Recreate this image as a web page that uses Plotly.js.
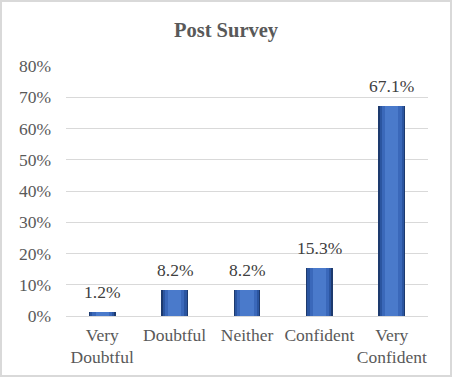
<!DOCTYPE html>
<html><head><meta charset="utf-8">
<script src="https://cdn.plot.ly/plotly-3.0.1.min.js"></script>
<style>
html,body{margin:0;padding:0;background:#fff;}
#chart{width:448px;height:373px;border:2px solid #d9d9d9;}
</style></head>
<body><div id="chart"></div>
<script>
const categories = ["Very<br>Doubtful", "Doubtful", "Neither", "Confident", "Very<br>Confident"];
const values = [1.2, 8.2, 8.2, 15.3, 67.1];
const yTicks = [0, 10, 20, 30, 40, 50, 60, 70, 80];

const font = "'Liberation Serif', 'Times New Roman', serif";
const layers = [
  {w:0.37, c:'#1d3a6e'},
  {w:0.33, c:'#2b55a0'},
  {w:0.27, c:'#3a68ba'},
  {w:0.18, c:'#4a7acb'}
];
const traces = layers.map(L => ({type:'bar', x:categories, y:values, width:L.w,
  marker:{color:L.c}, hoverinfo:'skip'}));
const annotations = categories.map((c,i) => ({x:c, y:values[i], xref:'x', yref:'y',
  text:values[i].toFixed(1)+'%', showarrow:false, yanchor:'bottom', yshift:8,
  font:{family:font,size:17.5,color:'#404040'}}));
const layout = {
  width:448, height:373, barmode:'overlay', showlegend:false,
  margin:{l:64, r:22, t:64, b:59},
  paper_bgcolor:'#fff', plot_bgcolor:'#fff',
  title:{text:'<b>Post Survey</b>', x:0.5, xanchor:'center', y:0.925, yanchor:'middle',
         font:{family:font, size:20.5, color:'#595959'}},
  xaxis:{type:'category', tickfont:{family:font,size:17.5,color:'#595959'}, showgrid:false,
         showline:false, ticks:'', ticklabelstandoff:6},
  yaxis:{range:[0,80], tickvals:yTicks, ticktext:yTicks.map(v=>v+'%'),
         tickfont:{family:font,size:17.5,color:'#595959'}, showgrid:true, gridcolor:'#d9d9d9',
         gridwidth:1, zeroline:true, zerolinecolor:'#d9d9d9', zerolinewidth:1, ticks:'',
         ticklabelstandoff:14},
  annotations: annotations,
  bargap:0
};
Plotly.newPlot('chart', traces, layout, {displayModeBar:false, staticPlot:true});
</script></body></html>
